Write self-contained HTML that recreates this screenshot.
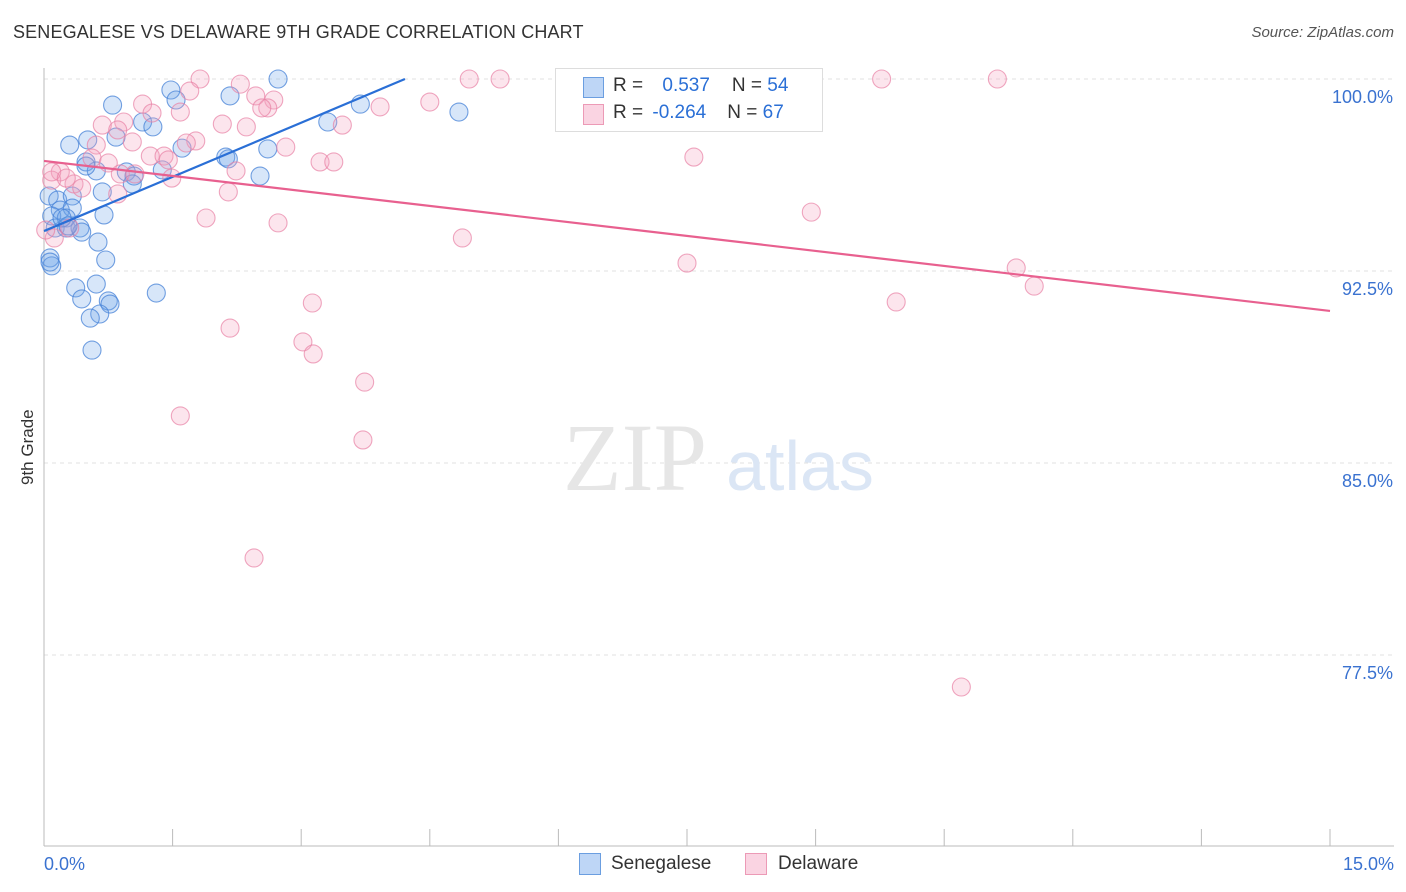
<!DOCTYPE html>
<html><head><meta charset="utf-8"><style>
body{margin:0;background:#fff;font-family:"Liberation Sans",sans-serif;}
#wrap{position:relative;width:1406px;height:892px;overflow:hidden;}
.t{position:absolute;white-space:nowrap;}
</style></head><body>
<div id="wrap">
<div class="t" style="left:13px;top:22px;font-size:18px;color:#333;letter-spacing:0.15px;">SENEGALESE VS DELAWARE 9TH GRADE CORRELATION CHART</div>
<div class="t" style="right:12px;top:24px;font-size:15px;color:#555;font-style:italic;">Source: ZipAtlas.com</div>
<div class="t" style="left:8px;top:455px;font-size:17px;color:#333;transform:rotate(-90deg);transform-origin:center;width:40px;text-align:center;">9th Grade</div>
<svg id="svg" width="1406" height="892" style="position:absolute;left:0;top:0"></svg>
<div style="position:absolute;left:555px;top:68px;width:266px;height:62px;border:1px solid #ddd;background:#fff;font-size:19px;">
  <div style="position:absolute;left:27px;top:8px;width:19px;height:19px;background:rgba(110,165,235,0.45);border:1px solid #6b9ee0;"></div>
  <div class="t" style="left:57px;top:6px;color:#333;">R = <span style="color:#2a6fd6;margin-left:14px">0.537</span><span style="margin-left:22px">N = </span><span style="color:#2a6fd6">54</span></div>
  <div style="position:absolute;left:27px;top:35px;width:19px;height:19px;background:rgba(245,160,190,0.45);border:1px solid #ec9ab6;"></div>
  <div class="t" style="left:57px;top:33px;color:#333;">R = <span style="color:#2a6fd6;margin-left:4px">-0.264</span><span style="margin-left:21px">N = </span><span style="color:#2a6fd6">67</span></div>
</div>
<div>
  <div style="position:absolute;left:579px;top:853px;width:20px;height:20px;background:rgba(110,165,235,0.45);border:1px solid #6b9ee0;"></div>
  <div class="t" style="left:611px;top:853px;font-size:19px;color:#333;">Senegalese</div>
  <div style="position:absolute;left:745px;top:853px;width:20px;height:20px;background:rgba(245,160,190,0.45);border:1px solid #ec9ab6;"></div>
  <div class="t" style="left:778px;top:853px;font-size:19px;color:#333;">Delaware</div>
</div>
</div>
<script>
const yTicks=[100,92.5,85,77.5];
const yTickLabels=["100.0%","92.5%","85.0%","77.5%"];
const xTickLabels=["0.0%","15.0%"];
const blueX=[2.73,1.48,0.80,1.54,2.17,3.69,4.84,3.31,1.15,1.27,0.51,0.84,0.30,1.61,2.61,2.12,2.15,0.49,0.61,0.96,1.05,1.38,2.52,1.03,0.06,0.16,0.68,0.33,0.19,0.33,0.70,0.09,0.26,0.13,0.26,0.42,0.44,0.63,0.07,0.09,0.72,0.61,0.37,0.44,0.75,0.77,1.31,0.65,0.54,0.56,0.49,0.28,0.07,0.21];
const blueY=[100,99.57,98.98,99.18,99.34,99.02,98.71,98.32,98.32,98.13,97.62,97.73,97.42,97.30,97.27,96.95,96.88,96.76,96.41,96.37,96.21,96.45,96.21,95.90,95.43,95.27,95.59,95.43,94.88,94.96,94.69,94.65,94.57,94.18,94.18,94.18,94.02,93.63,93.01,92.70,92.93,91.99,91.84,91.41,91.33,91.21,91.64,90.82,90.66,89.41,96.60,94.26,92.85,94.57];
const pinkX=[1.82,2.29,4.96,5.32,9.77,11.12,1.70,2.47,2.68,1.15,2.61,2.54,1.59,4.50,3.92,1.26,0.68,0.93,0.86,2.08,2.36,3.48,1.77,1.66,1.03,2.82,0.61,1.24,1.40,1.45,7.58,0.56,0.75,3.22,3.38,0.19,0.89,1.06,2.24,1.49,0.09,0.35,0.44,2.15,0.86,8.95,1.89,2.73,0.30,4.88,0.12,7.50,11.34,11.55,9.94,3.13,2.17,3.02,3.14,3.74,1.59,3.72,2.45,10.70,0.02,0.09,0.26];
const pinkY=[100,99.80,100,100,100,100,99.53,99.34,99.18,99.02,98.87,98.87,98.71,99.10,98.91,98.67,98.20,98.32,98.01,98.24,98.13,98.20,97.58,97.50,97.54,97.34,97.42,96.99,96.99,96.84,96.95,96.91,96.72,96.76,96.76,96.37,96.29,96.29,96.41,96.13,96.05,95.90,95.74,95.59,95.51,94.80,94.57,94.38,94.18,93.79,93.79,92.81,92.62,91.91,91.29,91.25,90.27,89.73,89.26,88.16,86.84,85.90,81.29,76.25,94.10,96.37,96.13];
const blueTrend=[[0,94.06],[4.21,100]];
const pinkTrend=[[0,96.80],[15,90.94]];

const X0=44,X1=1330,Y100=79,PXPER=192/7.5;
const xs=v=>X0+v/15*(X1-X0);
const ys=v=>Y100+(100-v)*PXPER;
const NS="http://www.w3.org/2000/svg";
const svg=document.getElementById('svg');
function mk(tag,attrs){const e=document.createElementNS(NS,tag);for(const k in attrs)e.setAttribute(k,attrs[k]);svg.appendChild(e);return e;}
yTicks.forEach((t,i)=>{
  const g=mk('line',{x1:X0,x2:1394,y1:ys(t),y2:ys(t),stroke:'#e2e2e2','stroke-dasharray':'4,4'});
  
  
  const tx=mk('text',{x:1393,y:ys(t)+24,'text-anchor':'end','font-size':18,fill:'#3a72d0','font-family':'Liberation Sans, sans-serif'});
  tx.textContent=yTickLabels[i];
  
  
});
const ya=mk('line',{x1:X0,x2:X0,y1:68,y2:846,stroke:'#bbb'});


const xa=mk('line',{x1:X0,x2:1394,y1:846,y2:846,stroke:'#bbb'});


for(let i=0;i<=10;i++){
  const x=xs(i*1.5);
  const tk=mk('line',{x1:x,x2:x,y1:829,y2:846,stroke:'#bbb'});
  
  
}
[[0,'start',44],[15,'end',1394]].forEach((d,i)=>{
  const t=mk('text',{x:d[2],y:870,'text-anchor':d[1],'font-size':18,fill:'#3a72d0','font-family':'Liberation Sans, sans-serif'});
  t.textContent=xTickLabels[i];
  
  
});
const w1=mk('text',{x:635,y:490,'text-anchor':'middle','font-size':96,fill:'#e6e6e6','font-family':'Liberation Serif, serif'});
w1.textContent='ZIP';


const w2=mk('text',{x:800,y:490,'text-anchor':'middle','font-size':70,fill:'#dbe6f5','font-family':'Liberation Sans, sans-serif'});
w2.textContent='atlas';


blueX.forEach((v,i)=>{
  const c=mk('circle',{cx:xs(v),cy:ys(blueY[i]),r:9,fill:'rgba(110,165,235,0.28)',stroke:'rgba(70,130,215,0.75)','stroke-width':1.1});
  
  
});
pinkX.forEach((v,i)=>{
  const c=mk('circle',{cx:xs(v),cy:ys(pinkY[i]),r:9,fill:'rgba(245,160,190,0.28)',stroke:'rgba(232,130,165,0.7)','stroke-width':1.1});
  
  
});
const bl=mk('line',{x1:xs(blueTrend[0][0]),y1:ys(blueTrend[0][1]),x2:xs(blueTrend[1][0]),y2:ys(blueTrend[1][1]),stroke:'#2a6fd6','stroke-width':2.2});


const pl=mk('line',{x1:xs(pinkTrend[0][0]),y1:ys(pinkTrend[0][1]),x2:xs(pinkTrend[1][0]),y2:ys(pinkTrend[1][1]),stroke:'#e8608f','stroke-width':2.2});


</script>
</body></html>
